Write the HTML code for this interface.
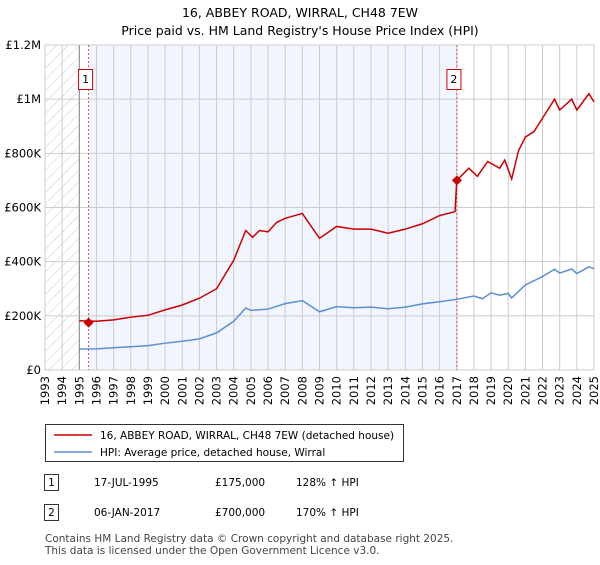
<!DOCTYPE html>
<html><head><meta charset="utf-8"><style>
body{margin:0;width:600px;height:560px;background:#fff;font-family:"Liberation Sans","DejaVu Sans",sans-serif;overflow:hidden}
svg text{font-family:"DejaVu Sans","Liberation Sans",sans-serif}
</style></head><body>
<svg id="c" width="600" height="560" xmlns="http://www.w3.org/2000/svg">
<defs><pattern id="hatch" width="8" height="8" patternUnits="userSpaceOnUse" patternTransform="rotate(45)"><line x1="0" y1="0" x2="0" y2="8" stroke="#ccc" stroke-width="1"/></pattern></defs>
<text x="300" y="17" text-anchor="middle" font-size="12.5">16, ABBEY ROAD, WIRRAL, CH48 7EW</text>
<text x="300" y="35" text-anchor="middle" font-size="12.5">Price paid vs. HM Land Registry's House Price Index (HPI)</text>
<g id="plot"></g>
<g>
<rect x="45.5" y="424.5" width="358" height="37" fill="#fff" stroke="#333"/>
<line x1="54" y1="435" x2="92" y2="435" stroke="#cc0000" stroke-width="1.5"/>
<text x="100" y="439" font-size="10.5">16, ABBEY ROAD, WIRRAL, CH48 7EW (detached house)</text>
<line x1="54" y1="452" x2="92" y2="452" stroke="#5b8fd4" stroke-width="1.5"/>
<text x="100" y="456" font-size="10.5">HPI: Average price, detached house, Wirral</text>
</g>
<g font-size="10.5">
<rect x="44.5" y="474.5" width="14" height="16" fill="#fff" stroke="#333"/><text x="51.5" y="486" text-anchor="middle">1</text>
<text x="94" y="486">17-JUL-1995</text><text x="215" y="486">£175,000</text><text x="296" y="486">128% ↑ HPI</text>
<rect x="44.5" y="504.5" width="14" height="16" fill="#fff" stroke="#333"/><text x="51.5" y="516" text-anchor="middle">2</text>
<text x="94" y="516">06-JAN-2017</text><text x="215" y="516">£700,000</text><text x="296" y="516">170% ↑ HPI</text>
</g>
<text x="45" y="542" font-size="10.5" fill="#444">Contains HM Land Registry data © Crown copyright and database right 2025.</text>
<text x="45" y="554" font-size="10.5" fill="#444">This data is licensed under the Open Government Licence v3.0.</text>
</svg>
<script>
const hpiYears=[1995,1996,1997,1998,1999,2000,2001,2002,2003,2004,2004.7,2005,2006,2007,2008,2009,2010,2011,2012,2013,2014,2015,2016,2017,2018,2018.5,2019,2019.5,2020,2020.2,2021,2022,2022.7,2023,2023.7,2024,2024.7,2025];
const hpiValues=[77.5,78,82,86,90,99,106,115,137,180,229,220,225,245,256,215,234,230,232,226,232,244,252,261,273,263,285,276,283,266,314,345,372,358,373,356,381,374];
const priceYears=[1995,1996,1997,1998,1999,2000,2001,2002,2003,2004,2004.7,2005.1,2005.5,2006,2006.5,2007,2008,2009,2010,2011,2012,2013,2014,2015,2016,2016.9,2017,2017.7,2018.2,2018.8,2019.5,2019.8,2020.2,2020.6,2021,2021.5,2022,2022.7,2023,2023.7,2024,2024.7,2025];
const priceValues=[182,180,185,195,202,222,240,265,300,405,515,490,515,510,545,560,578,486,530,520,520,505,520,540,570,585,700,745,715,770,745,775,705,810,860,880,930,1000,960,1000,960,1020,990];
const saleYears=[1995.54,2017.01];
const saleValues=[175,700];
const saleLabels=["1","2"];
const yTicks=[0,200,400,600,800,1000,1200];
const yTickLabels=["£0","£200K","£400K","£600K","£800K","£1M","£1.2M"];
const xStart=1993,xEnd=2025;
const X0=45,X1=594,Y0=370,Y1=45,VMAX=1200;
const sx=y=>X0+(y-xStart)/(xEnd-xStart)*(X1-X0);
const sy=v=>Y0-v/VMAX*(Y0-Y1);
const NS="http://www.w3.org/2000/svg";
const g=document.getElementById('plot');
function mk(t,a){const e=document.createElementNS(NS,t);for(const k in a)e.setAttribute(k,a[k]);g.appendChild(e);return e;}
let e;
e=mk('rect',{x:sx(saleYears[0]),y:Y1,width:sx(saleYears[1])-sx(saleYears[0]),height:Y0-Y1,fill:'#f1f5fd'});


e=mk('rect',{x:X0,y:Y1,width:sx(1995)-X0,height:Y0-Y1,fill:'url(#hatch)'});


for(let y=xStart;y<=xEnd;y++){
 e=mk('line',{x1:sx(y),x2:sx(y),y1:Y1,y2:Y0,stroke:'#ccc','stroke-width':1});
 
 
 const tx=sx(y)+4,ty=Y0+6;
 const t=mk('text',{x:tx,y:ty,'font-size':11.5,'text-anchor':'end',transform:'rotate(-90 '+tx+' '+ty+')'});
 t.textContent=y;
 
 
}
yTicks.forEach((v,i)=>{
 e=mk('line',{x1:X0,x2:X1,y1:sy(v),y2:sy(v),stroke:'#ccc','stroke-width':1});
 
 
 const t=mk('text',{x:X0-4,y:sy(v)+4,'font-size':11.5,'text-anchor':'end'});
 t.textContent=yTickLabels[i];
 
 
});
e=mk('line',{x1:sx(1995),x2:sx(1995),y1:Y1,y2:Y0,stroke:'#888'});


e=mk('rect',{x:X0,y:Y1,width:X1-X0,height:Y0-Y1,fill:'none',stroke:'#ccc'});


saleYears.forEach((y,i)=>{
 e=mk('line',{x1:sx(y),x2:sx(y),y1:Y1,y2:Y0,stroke:'#e05050','stroke-dasharray':'2,2','stroke-width':1});
 
 
 e=mk('rect',{x:sx(y)-10,y:69.5,width:14,height:20,fill:'#fff',stroke:'#cc0000'});
 
 
 const t=mk('text',{x:sx(y)-3,y:83,'font-size':11,'text-anchor':'middle'});
 t.textContent=saleLabels[i];
 
 
});
e=mk('polyline',{points:hpiYears.map((y,i)=>sx(y)+','+sy(hpiValues[i])).join(' '),fill:'none',stroke:'#5b8fd4','stroke-width':1.5});


e=mk('polyline',{points:priceYears.map((y,i)=>sx(y)+','+sy(priceValues[i])).join(' '),fill:'none',stroke:'#cc0000','stroke-width':1.5});


saleYears.forEach((y,i)=>{
 const cx=sx(y),cy=sy(saleValues[i]);
 e=mk('polygon',{points:`${cx},${cy-5} ${cx+5},${cy} ${cx},${cy+5} ${cx-5},${cy}`,fill:'#cc0000'});
 
 
});
</script>
</body></html>
